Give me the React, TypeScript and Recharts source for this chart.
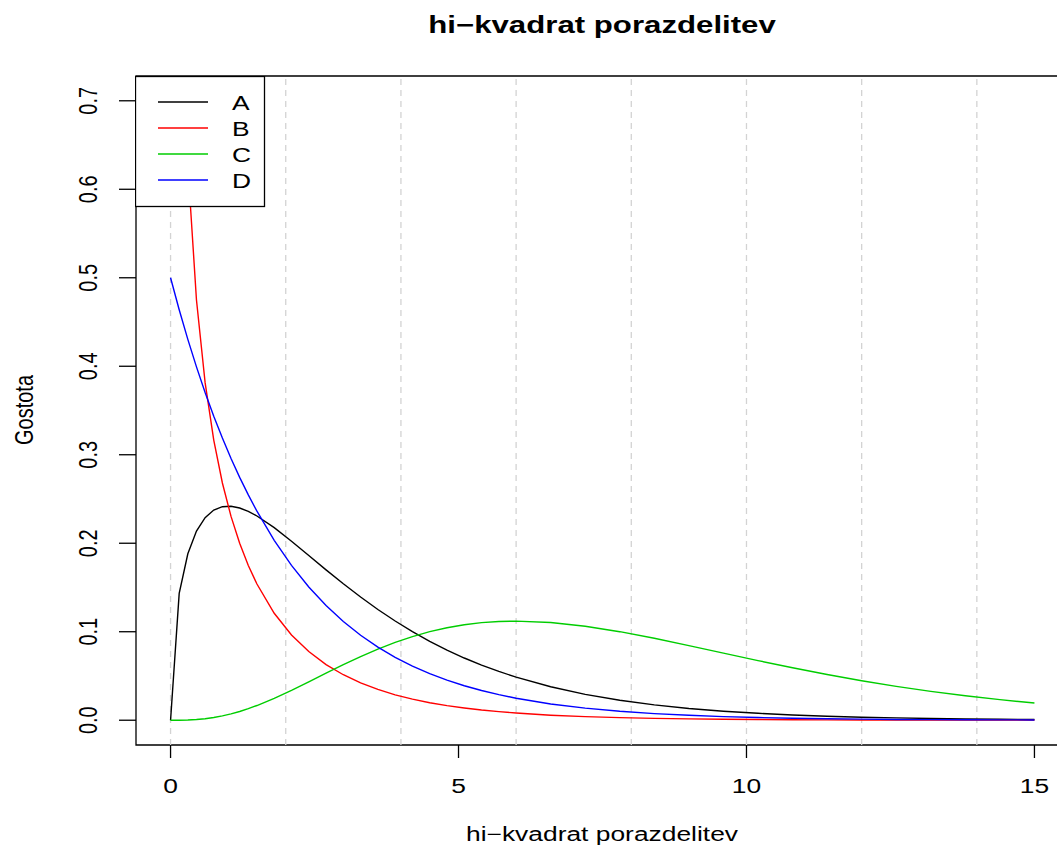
import React from "react";
import {
  LineChart,
  Line,
  XAxis,
  YAxis,
  ReferenceLine,
  ReferenceArea,
  Legend,
} from "recharts";

// x positions (hi-kvadrat values)
const X = [
  0, 0.15, 0.3, 0.45, 0.6, 0.75, 0.9, 1.05, 1.2, 1.35, 1.5, 1.8, 2.1, 2.4, 2.7,
  3.0, 3.3, 3.6, 3.9, 4.2, 4.5, 4.8, 5.1, 5.4, 5.7, 6.0, 6.6, 7.2, 7.8, 8.4,
  9.0, 9.6, 10.2, 10.8, 11.4, 12.0, 12.6, 13.2, 13.8, 14.4, 15.0,
];

const A = [
  0, 0.1433, 0.1881, 0.2137, 0.2289, 0.2375, 0.2413, 0.2418, 0.2398, 0.236,
  0.2308, 0.2176, 0.2023, 0.1861, 0.1699, 0.1542, 0.1392, 0.1251, 0.1121,
  0.1001, 0.0892, 0.0793, 0.0703, 0.0623, 0.0551, 0.0487, 0.0378, 0.0292,
  0.0226, 0.0173, 0.0133, 0.0102, 0.0078, 0.0059, 0.0045, 0.0034, 0.0026,
  0.002, 0.0015, 0.0011, 0.0008,
];

const B = [
  null, 0.9556, 0.6269, 0.4749, 0.3815, 0.3166, 0.2681, 0.2303, 0.1999, 0.1748,
  0.1539, 0.1209, 0.0963, 0.0776, 0.0629, 0.0514, 0.0422, 0.0348, 0.0287,
  0.0238, 0.0198, 0.0165, 0.0138, 0.0115, 0.0097, 0.0081, 0.0057, 0.0041,
  0.0029, 0.0021, 0.0015, 0.0011, 0.0008, 0.0005, 0.0004, 0.0003, 0.0002,
  0.0001, 0.0001, 0.0001, 0.0001,
];

const C = [
  0, 0.00003, 0.00024, 0.00076, 0.00167, 0.00302, 0.00484, 0.00713, 0.00988,
  0.01305, 0.01661, 0.0247, 0.03376, 0.04337, 0.05315, 0.06276, 0.07189,
  0.08034, 0.08791, 0.09451, 0.10005, 0.10451, 0.10789, 0.11024, 0.11158,
  0.11203, 0.11045, 0.10622, 0.10005, 0.09261, 0.08437, 0.07585, 0.0674,
  0.05927, 0.05164, 0.04462, 0.03826, 0.03259, 0.02759, 0.02322, 0.01944,
];

const D = [
  0.5, 0.4639, 0.4304, 0.3993, 0.3704, 0.3436, 0.3188, 0.2958, 0.2744, 0.2546,
  0.2362, 0.2033, 0.175, 0.1506, 0.1296, 0.1116, 0.096, 0.0826, 0.0711, 0.0612,
  0.0527, 0.0454, 0.039, 0.0336, 0.0289, 0.0249, 0.0184, 0.0137, 0.0101,
  0.0075, 0.0056, 0.0041, 0.003, 0.0023, 0.0017, 0.0012, 0.0009, 0.0007,
  0.0005, 0.0004, 0.0003,
];

const X_TICKS = [0, 5, 10, 15];
const Y_TICKS = [0, 0.1, 0.2, 0.3, 0.4, 0.5, 0.6, 0.7];
const GRID_X = [0, 2, 4, 6, 8, 10, 12, 14];

const SERIES = [
  { key: "A", color: "#000000" },
  { key: "B", color: "#ff0000" },
  { key: "C", color: "#00cd00" },
  { key: "D", color: "#0000ff" },
];

const data = X.map((x, i) => ({ x, A: A[i], B: B[i], C: C[i], D: D[i] }));

const FONT = "'Liberation Sans', Arial, Helvetica, sans-serif";
const SX = 1.32; // the picture is stretched sideways

const XTick = (props: any) => (
  <text
    transform={`translate(${props.x},793) scale(${SX},1)`}
    textAnchor="middle"
    fontFamily={FONT}
    fontSize={20}
    fill="#000"
  >
    {props.payload.value}
  </text>
);

const YTick = (props: any) => (
  <text
    transform={`translate(97,${props.y}) scale(${SX},1) rotate(-90)`}
    textAnchor="middle"
    fontFamily={FONT}
    fontSize={20}
    fill="#000"
  >
    {Number(props.payload.value).toFixed(1)}
  </text>
);

const renderLegend = (props: any) => {
  const items = props.payload || [];
  return (
    <svg width={131} height={132} style={{ display: "block" }}>
      <rect x={0.5} y={0.5} width={129} height={130} fill="#fff" stroke="#000" strokeWidth={1.3} />
      {items.map((it: any, i: number) => {
        const y = 26 + i * 26;
        return (
          <g key={it.value}>
            <line x1={23} x2={73} y1={y} y2={y} stroke={it.color} strokeWidth={1.3} />
            <text
              transform={`translate(97,${y + 7.5}) scale(${SX},1)`}
              fontFamily={FONT}
              fontSize={20}
              fill="#000"
            >
              {it.value}
            </text>
          </g>
        );
      })}
    </svg>
  );
};

export default function App() {
  return (
    <div
      style={{
        position: "absolute",
        left: 0,
        top: 0,
        width: 1057,
        height: 847,
        overflow: "hidden",
        background: "#fff",
      }}
    >
      <LineChart
        width={1070}
        height={847}
        data={data}
        margin={{ top: 76, right: 1, bottom: 0, left: 0 }}
      >
        <XAxis
          dataKey="x"
          type="number"
          domain={[-0.6, 15.6]}
          ticks={X_TICKS}
          height={102}
          axisLine={false}
          tickSize={13}
          tickLine={{ stroke: "#000", strokeWidth: 1.3 }}
          tick={<XTick />}
        />
        <YAxis
          type="number"
          domain={[-0.028, 0.728]}
          ticks={Y_TICKS}
          allowDataOverflow
          width={136}
          axisLine={false}
          tickSize={17}
          tickLine={{ stroke: "#000", strokeWidth: 1.3 }}
          tick={<YTick />}
        />
        {GRID_X.map((g) => (
          <ReferenceLine
            key={g}
            x={g}
            stroke="#d3d3d3"
            strokeWidth={1.3}
            strokeDasharray="6 5"
          />
        ))}
        {SERIES.map((s) => (
          <Line
            key={s.key}
            dataKey={s.key}
            name={s.key}
            type="linear"
            stroke={s.color}
            strokeWidth={1.4}
            dot={false}
            activeDot={false}
            isAnimationActive={false}
          />
        ))}
        <ReferenceArea
          x1={-0.6}
          x2={15.6}
          y1={-0.028}
          y2={0.728}
          fill="none"
          stroke="#000"
          strokeWidth={1.3}
          fillOpacity={0}
        />
        <Legend
          layout="horizontal"
          align="center"
          verticalAlign="middle"
          content={renderLegend}
          wrapperStyle={{ position: "absolute", left: 135, top: 76, width: 131, height: 132 }}
        />
        <text
          transform={`translate(602,33) scale(1.3,1)`}
          textAnchor="middle"
          fontFamily={FONT}
          fontSize={24}
          fontWeight="bold"
          fill="#000"
        >
          hi−kvadrat porazdelitev
        </text>
        <text
          transform={`translate(602,841) scale(${SX},1)`}
          textAnchor="middle"
          fontFamily={FONT}
          fontSize={20}
          fill="#000"
        >
          hi−kvadrat porazdelitev
        </text>
        <text
          transform={`translate(33,410) scale(${SX},1) rotate(-90)`}
          textAnchor="middle"
          fontFamily={FONT}
          fontSize={20}
          fill="#000"
        >
          Gostota
        </text>
      </LineChart>
    </div>
  );
}
